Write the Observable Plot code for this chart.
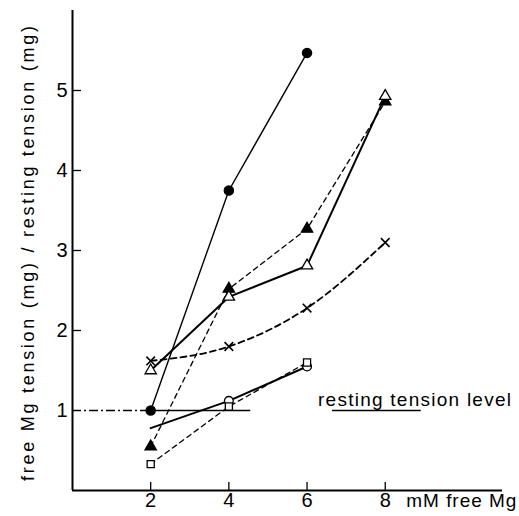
<!DOCTYPE html>
<html>
<head>
<meta charset="utf-8">
<script src="https://cdn.jsdelivr.net/npm/d3@7"></script>
<script src="https://cdn.jsdelivr.net/npm/@observablehq/plot@0.6"></script>
<style>
  html, body { margin: 0; padding: 0; background: #fff; }
  #chart svg { display: block; }
</style>
</head>
<body>
<div id="chart"></div>
<script>
// Free Mg concentration (mM) at which tension was measured
const mg = [2, 4, 6, 8];

// Tension ratio (free Mg tension / resting tension) for each preparation
const filledCircles   = [1.0, 3.75, 5.47];
const filledTriangles = [0.55, 2.52, 3.27, 4.86];
const openTriangles   = [1.5, 2.42, 2.81, 4.93];
const crosses         = [1.62, 1.8, 2.28, 3.1];
const openCircles     = [0.78, 1.12, 1.55];
const openSquares     = [0.33, 1.05, 1.6];

// Axis ticks
const xTicks = [2, 4, 6, 8];
const yTicks = [1, 2, 3, 4, 5];
const yTickMarks = [2, 3, 4, 5];

// Resting tension reference level
const restingLevel = 1;

// Labels
const xTitle = "mM free Mg";
const yTitle = "free Mg tension (mg) / resting tension (mg)";
const restingLabel = "resting tension level";

const series = [
  {name: "filled circles",   values: filledCircles,   symbol: "circle",   fill: "black", width: 1.4, dash: null,  r: 4.6},
  {name: "filled triangles", values: filledTriangles, symbol: "triangle", fill: "black", width: 1.3, dash: "5,4", r: 4.2},
  {name: "open triangles",   values: openTriangles,   symbol: "triangle", fill: "white", width: 2,   dash: null,  r: 4.2},
  {name: "crosses",          values: crosses,         symbol: "times",    fill: "none",  width: 1.8, dash: "6,4", r: 4, curve: "monotone-x"},
  {name: "open circles",     values: openCircles,     symbol: "circle",   fill: "white", width: 2,   dash: null,  r: 4.4, firstMarker: 1},
  {name: "open squares",     values: openSquares,     symbol: "square",   fill: "white", width: 1.3, dash: "5,4", r: 4}
];

const rows = s => s.values.map((t, i) => ({mg: mg[i], t, i}));

const lineMarks = series.map(s => Plot.line(rows(s), {
  x: "mg", y: "t", stroke: "black", strokeWidth: s.width,
  strokeDasharray: s.dash, curve: s.curve || "linear"
}));

const dotMarks = series.map(s => Plot.dot(rows(s).filter(d => d.i >= (s.firstMarker || 0)), {
  x: "mg", y: "t", symbol: () => s.symbol, r: s.r,
  fill: s.fill,
  stroke: "black", strokeWidth: s.symbol === "times" ? 1.6 : 1.3
}));

// Resting tension level: dash-dot to the first point, solid beyond, and under its label
const restSegments = [
  {x1: 0, x2: 2, dash: "9,3,2,3"},
  {x1: 2, x2: 4.56, dash: null},
  {x1: 6.65, x2: 8.92, dash: null}
];

const font = "'Liberation Sans', Arial, sans-serif";

const chart = Plot.plot({
  width: 519,
  height: 516,
  marginLeft: 72,
  marginRight: 17,
  marginTop: 10,
  marginBottom: 26,
  style: {fontFamily: font, fontSize: "18px", color: "black", background: "white"},
  x: {domain: [0, 11]},
  y: {domain: [0, 6]},
  marks: [
    ...restSegments.map(seg => Plot.ruleY([restingLevel], {x1: seg.x1, x2: seg.x2, stroke: "black", strokeWidth: 1.3, strokeDasharray: seg.dash})),
    ...lineMarks,
    ...dotMarks,
    // axis lines
    Plot.ruleX([0], {y1: 0, y2: 6, stroke: "black", strokeWidth: 2}),
    Plot.ruleY([0], {x1: 0, x2: 11, stroke: "black", strokeWidth: 2}),
    // inward tick marks
    Plot.ruleX(xTicks, {y1: 0, y2: 0.1, stroke: "black", strokeWidth: 1.3}),
    Plot.ruleY(yTickMarks, {x1: 0, x2: 0.23, stroke: "black", strokeWidth: 1.3}),
    Plot.axisX(xTicks, {tickSize: 0, tickPadding: 2, label: null, fontSize: 20, tickFormat: d3.format("d")}),
    Plot.axisY(yTicks, {tickSize: 0, tickPadding: 5, label: null, fontSize: 20, tickFormat: d3.format("d")}),
    Plot.text([xTitle], {x: 8.54, y: 0, dy: 3, lineAnchor: "top", textAnchor: "start", fontSize: 19}),
    Plot.text([yTitle], {frameAnchor: "left", textAnchor: "middle", rotate: -90, dx: -44, dy: 3, fontSize: 18}),
    Plot.text([restingLabel], {x: 6.28, y: restingLevel, dy: -11, textAnchor: "start", fontSize: 19})
  ]
});

document.getElementById("chart").appendChild(chart);

// Stretch the hand-lettered labels to their spaced-out widths
const stretch = (content, length) => {
  d3.select(chart).selectAll("text")
    .filter(function() { return this.textContent === content; })
    .attr("textLength", length).attr("lengthAdjust", "spacing");
};
stretch(yTitle, 455);
stretch(restingLabel, 193);
stretch(xTitle, 110);
</script>
</body>
</html>
